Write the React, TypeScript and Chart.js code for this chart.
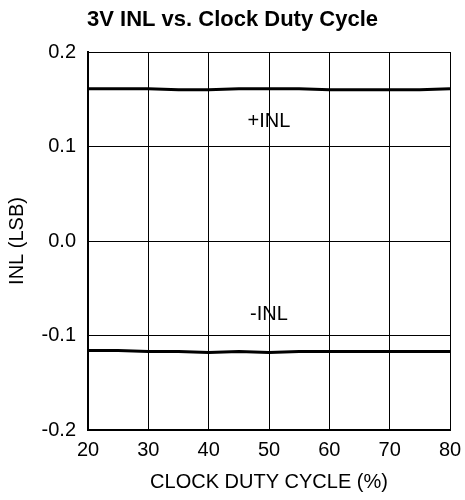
import React, { useEffect, useRef } from "react";
import { Chart, registerables } from "chart.js";

Chart.register(...registerables);

const dutyCycle = [20, 25, 30, 35, 40, 45, 50, 55, 60, 65, 70, 75, 80];
const plusINL = [0.161, 0.161, 0.161, 0.160, 0.160, 0.161, 0.161, 0.161, 0.160, 0.160, 0.160, 0.160, 0.161];
const minusINL = [-0.116, -0.116, -0.117, -0.117, -0.118, -0.117, -0.118, -0.117, -0.117, -0.117, -0.117, -0.117, -0.117];
const seriesLabels = ["+INL", "-INL"];
const labelX = [50, 50];
const labelY = [0.126, -0.078];
const yTicks = [-0.2, -0.1, 0.0, 0.1, 0.2];
const xTicks = [20, 30, 40, 50, 60, 70, 80];
const chartTitle = "3V INL vs. Clock Duty Cycle";

const FONT = "'Liberation Sans', Arial, sans-serif";

const labelPlugin = {
  id: "seriesLabels",
  afterDatasetsDraw(chart: any) {
    const { ctx, scales } = chart;
    ctx.save();
    ctx.fillStyle = "#000";
    ctx.font = `20px ${FONT}`;
    ctx.textAlign = "center";
    ctx.textBaseline = "middle";
    seriesLabels.forEach((t, i) => {
      ctx.fillText(t, scales.x.getPixelForValue(labelX[i]), scales.y.getPixelForValue(labelY[i]));
    });
    ctx.font = `bold 22px ${FONT}`;
    ctx.fillText(chartTitle, chart.width / 2, 20);
    ctx.restore();
  },
};

export default function App() {
  const ref = useRef<HTMLCanvasElement>(null);
  useEffect(() => {
    if (!ref.current) return;
    const chart = new Chart(ref.current, {
      type: "line",
      data: {
        datasets: [
          {
            label: seriesLabels[0],
            data: dutyCycle.map((x, i) => ({ x, y: plusINL[i] })),
            borderColor: "#000",
            borderWidth: 3,
            pointRadius: 0,
            tension: 0,
          },
          {
            label: seriesLabels[1],
            data: dutyCycle.map((x, i) => ({ x, y: minusINL[i] })),
            borderColor: "#000",
            borderWidth: 3,
            pointRadius: 0,
            tension: 0,
          },
        ],
      },
      options: {
        animation: false,
        responsive: false,
        layout: { padding: { left: 0, right: 15, top: 52, bottom: 0 } },
        plugins: {
          legend: { display: false },
          tooltip: { enabled: false },
          title: { display: false },
        },
        scales: {
          x: {
            type: "linear",
            min: 20,
            max: 80,
            afterBuildTicks: (axis: any) => {
              axis.ticks = xTicks.map((v) => ({ value: v }));
            },
            afterFit: (axis: any) => {
              axis.height = 70;
              axis.paddingLeft = 0;
              axis.paddingRight = 0;
            },
            ticks: {
              color: "#000",
              font: { family: FONT, size: 20 },
              padding: 8,
              maxRotation: 0,
            },
            grid: { color: "#000", lineWidth: 1, drawTicks: false },
            border: { color: "#000", width: 2 },
            title: {
              display: true,
              text: "CLOCK DUTY CYCLE (%)",
              color: "#000",
              font: { family: FONT, size: 20 },
              padding: { top: 0, bottom: 6 },
            },
          },
          y: {
            type: "linear",
            min: -0.2,
            max: 0.2,
            afterBuildTicks: (axis: any) => {
              axis.ticks = yTicks.map((v) => ({ value: v }));
            },
            afterFit: (axis: any) => {
              axis.width = 88;
              axis.paddingTop = 0;
              axis.paddingBottom = 0;
            },
            ticks: {
              color: "#000",
              font: { family: FONT, size: 20 },
              padding: 12,
              callback: (v: any) => Number(v).toFixed(1),
            },
            grid: { color: "#000", lineWidth: 1, drawTicks: false },
            border: { color: "#000", width: 2 },
            title: {
              display: true,
              text: "INL (LSB)",
              color: "#000",
              font: { family: FONT, size: 20 },
              padding: { top: 5, bottom: 0 },
            },
          },
        },
      },
      plugins: [labelPlugin],
    });
    return () => chart.destroy();
  }, []);
  return (
    <div style={{ position: "absolute", left: 0, top: 0, width: 465, height: 500, background: "#fff" }}>
      <canvas ref={ref} width={465} height={500} style={{ width: 465, height: 500 }} />
    </div>
  );
}
